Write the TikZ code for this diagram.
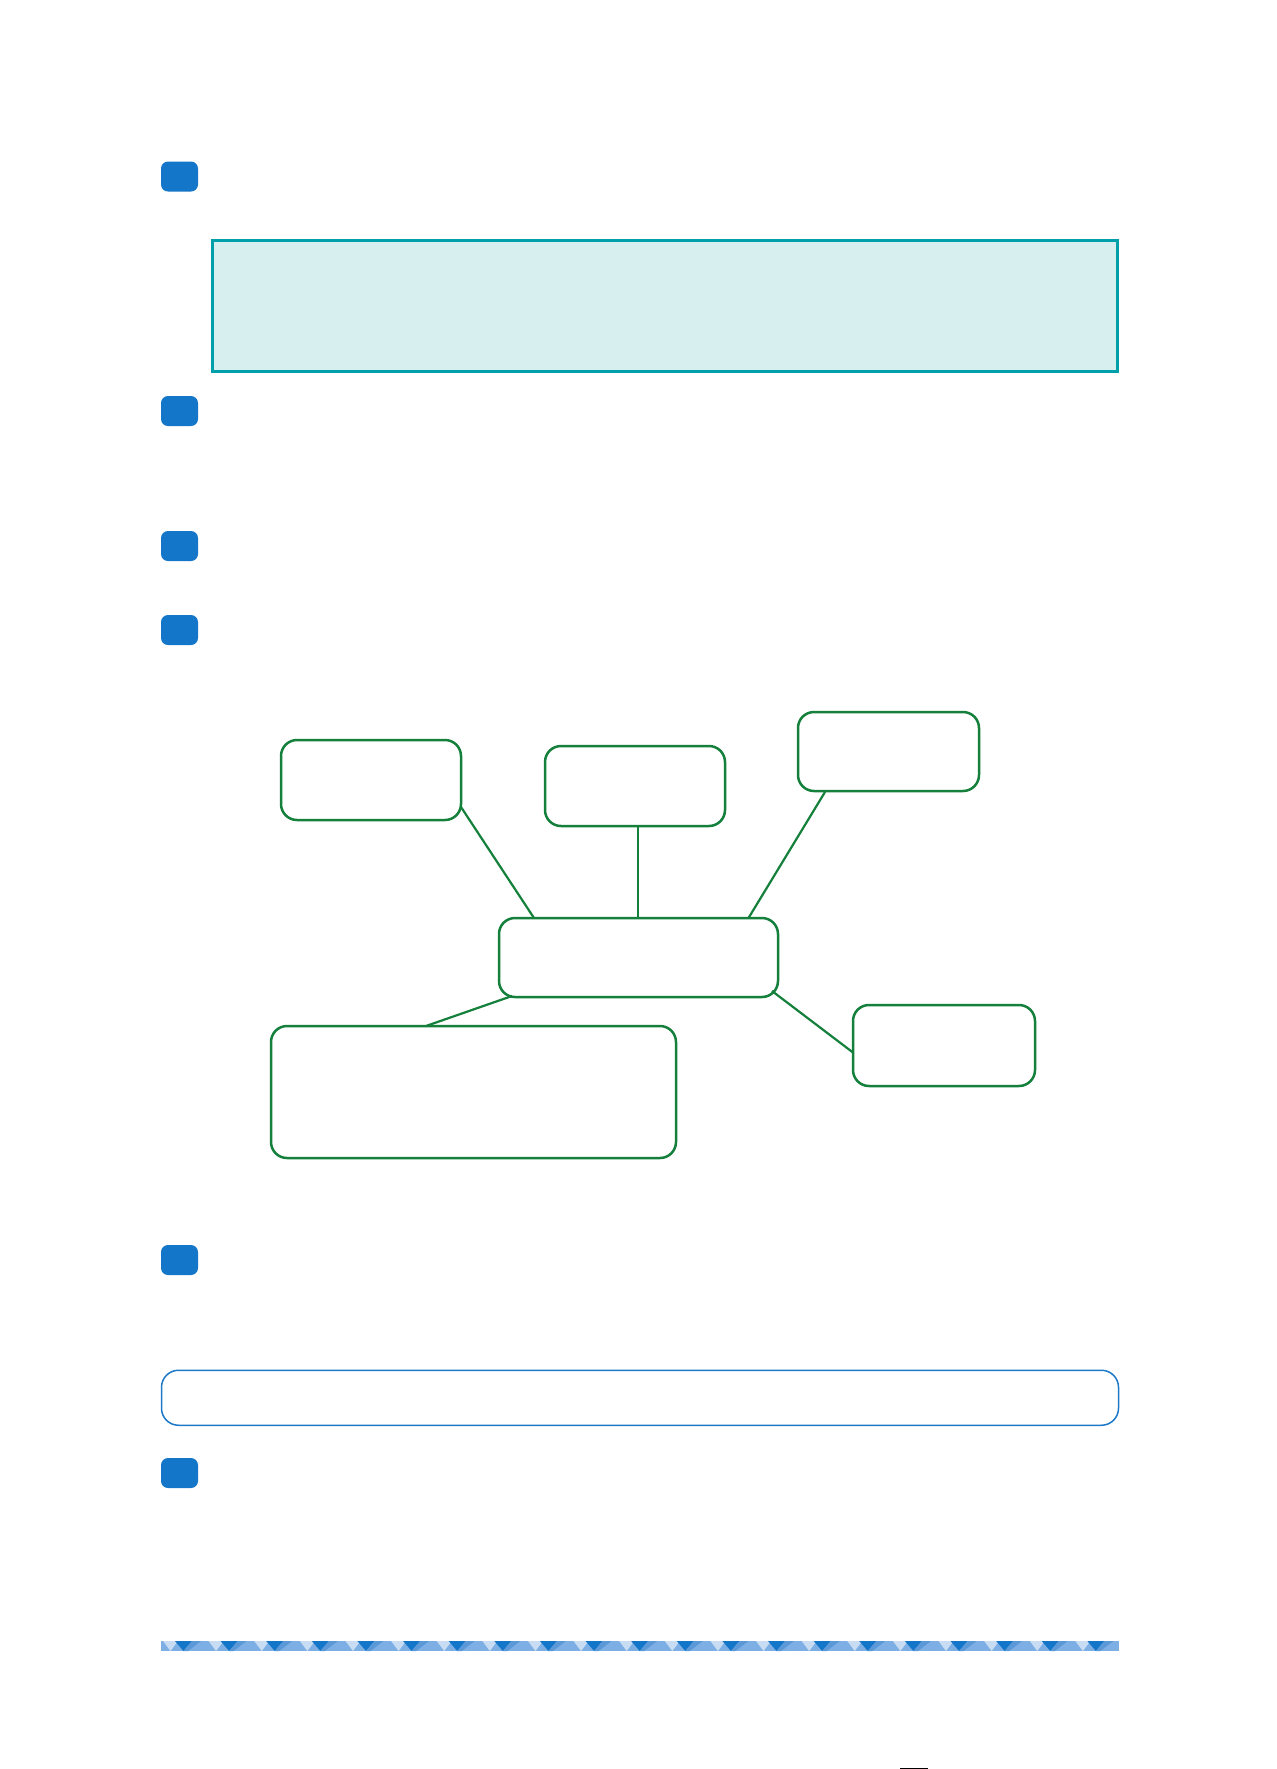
\documentclass[tikz,border=0pt]{standalone}
\usetikzlibrary{positioning}
\definecolor{markerblue}{RGB}{20,118,200}
\definecolor{cyanfill}{RGB}{216,239,240}
\definecolor{cyanline}{RGB}{0,160,170}
\definecolor{mapgreen}{RGB}{20,128,60}
\definecolor{boxblue}{RGB}{30,120,200}
\definecolor{stripdark}{RGB}{20,118,200}
\definecolor{strippale}{RGB}{200,221,243}
\definecolor{stripmedA}{RGB}{90,152,215}
\definecolor{stripmedB}{RGB}{125,175,228}
\begin{document}
\begin{tikzpicture}[x=0.5pt,y=-0.5pt,
  marker/.style={rectangle,rounded corners=3.5pt,fill=markerblue,draw=none,minimum width=18.5pt,minimum height=15pt,inner sep=0pt,outer sep=0pt},
  mapbox/.style={rectangle,rounded corners=8pt,draw=mapgreen,line width=1.25pt,fill=white,inner sep=0pt,outer sep=0pt},
  maplink/.style={draw=mapgreen,line width=1.1pt},
  notebox/.style={rectangle,draw=cyanline,line width=1.5pt,fill=cyanfill,inner sep=0pt,outer sep=0pt},
  answerbox/.style={rectangle,rounded corners=8.5pt,draw=boxblue,line width=0.75pt,inner sep=0pt,outer sep=0pt}]
\useasboundingbox[fill=white] (0,0) rectangle (1276,1769);

% numbered markers
\node[marker] (m1) at (179.5,176.5) {};
\node[marker] (m2) at (179.5,411) {};
\node[marker] (m3) at (179.5,546) {};
\node[marker] (m4) at (179.5,630) {};
\node[marker] (m5) at (179.5,1260) {};
\node[marker] (m6) at (179.5,1473) {};

% shaded note box
\node[notebox,minimum width=452.5pt,minimum height=65.5pt] (note) at (665,305.5) {};

% mind map
\node[mapbox,minimum width=90pt,minimum height=40pt] (A) at (371,780) {};
\node[mapbox,minimum width=90pt,minimum height=40pt] (B) at (635,786) {};
\node[mapbox,minimum width=90.5pt,minimum height=39.5pt] (C) at (888.5,751.5) {};
\node[mapbox,minimum width=139.5pt,minimum height=39.5pt] (M) at (638.5,957.5) {};
\node[mapbox,minimum width=202.5pt,minimum height=66pt] (D) at (473.5,1092) {};
\node[mapbox,minimum width=91pt,minimum height=40.5pt] (E) at (944,1045.5) {};

\draw[maplink] ([yshift=6.5pt]A.south east) -- ([xshift=17.5pt]M.north west);
\draw[maplink] ([xshift=1.3pt]B.south) -- ([xshift=1.3pt]B.south |- M.north);
\draw[maplink] ([xshift=13.5pt,yshift=-0.5pt]C.south west) -- ([xshift=-14.75pt]M.north east);
\draw[maplink] ([xshift=6.5pt,yshift=0.5pt]M.south west) -- ([xshift=77.5pt]D.north west);
\draw[maplink] ([xshift=-3pt,yshift=3pt]M.south east) -- ([yshift=-3.5pt]E.west);

% answer box
\node[answerbox,minimum width=478.5pt,minimum height=27.5pt] (ans) at (640,1397.75) {};

% decorative strip
\begin{scope}
\clip (161,1641) rectangle (1119,1651);
\fill[stripmedB] (161,1641) rectangle (1119,1651);
\foreach \k in {0,...,21} {
  \pgfmathsetmacro\xo{161+45.619*\k}
  \fill[strippale] ({\xo+2},1641) -- ({\xo+17},1641) -- ({\xo+9.5},1651) -- cycle;
  \fill[stripdark] ({\xo+14},1641) -- ({\xo+31},1641) -- ({\xo+22.5},1651) -- cycle;
  \fill[stripmedA] ({\xo+31},1641) -- ({\xo+40},1641) -- ({\xo+27},1651) -- ({\xo+22.5},1651) -- cycle;
}
\end{scope}

% footer fragment
\draw[black,line width=0.6pt] (900,1768.8) -- (928,1768.8);
\end{tikzpicture}
\end{document}
